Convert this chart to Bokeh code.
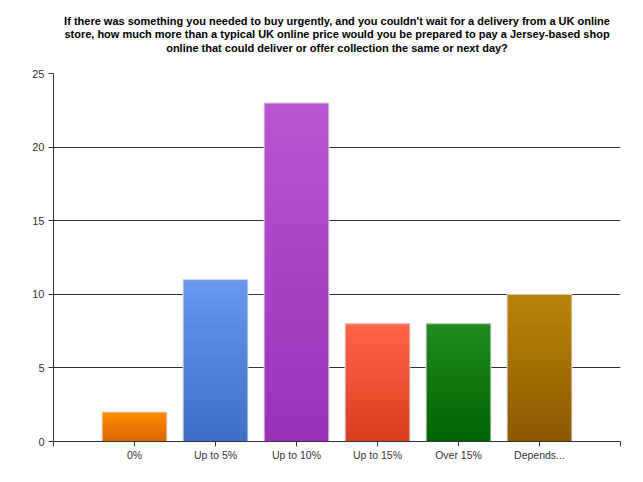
from bokeh.plotting import figure
from bokeh.models import FixedTicker, Title, ColumnDataSource
from bokeh.embed import file_html
from bokeh.resources import INLINE

# ---- data ----
categories = ["0%", "Up to 5%", "Up to 10%", "Up to 15%", "Over 15%", "Depends..."]
counts = [2, 11, 23, 8, 8, 10]
top_colors = ["#FF8C00", "#6699EE", "#BA55D3", "#FF6347", "#228B22", "#B8860B"]
bottom_colors = ["#DD6600", "#3D6FC6", "#9932B8", "#D8401F", "#006400", "#8B5A00"]
y_ticks = [0, 5, 10, 15, 20, 25]
title_lines = [
    "If there was something you needed to buy urgently, and you couldn't wait for a delivery from a UK online",
    "store, how much more than a typical UK online price would you be prepared to pay a Jersey-based shop",
    "online that could deliver or offer collection the same or next day?",
]

FONT = "Liberation Sans"
N_SLICES = 40
BAR_W = 0.8


def hex2rgb(h):
    h = h.lstrip("#")
    return tuple(int(h[i:i + 2], 16) for i in (0, 2, 4))


def lerp(c1, c2, t):
    a, b = hex2rgb(c1), hex2rgb(c2)
    return "#%02x%02x%02x" % tuple(round(a[i] + (b[i] - a[i]) * t) for i in range(3))


n = len(categories)
xs = [i + 1 for i in range(n)]

p = figure(width=643, height=482, x_range=(0, n + 1), y_range=(0, 25),
           output_backend="svg", toolbar_location=None,
           min_border_left=53, min_border_right=23, min_border_bottom=41, min_border_top=73)
p.outline_line_color = None
p.background_fill_color = "white"

# spacer between the title block and the plot frame
p.add_layout(Title(text=" ", text_font_size="1px", standoff=16), "above")
# title: one centered Title per line (first added sits closest to the plot)
for line, so in zip(reversed(title_lines), [1, -1, 0]):
    p.add_layout(Title(text=line, align="center", text_font=FONT,
                       text_font_size="11px", text_font_style="bold", text_color="#000000",
                       standoff=so), "above")

# gradient bars built from the data (layered slices, no seams)
l, r, b, t, c = [], [], [], [], []
for x, v, ct, cb in zip(xs, counts, top_colors, bottom_colors):
    for k in range(N_SLICES):
        l.append(x - BAR_W / 2)
        r.append(x + BAR_W / 2)
        b.append(v * k / N_SLICES)
        t.append(v)
        c.append(lerp(cb, ct, (k + 0.5) / N_SLICES))
p.quad(left=l, right=r, bottom=b, top=t, fill_color=c, line_color=None)

src = ColumnDataSource(dict(left=[x - BAR_W / 2 for x in xs], right=[x + BAR_W / 2 for x in xs],
                            top=counts, bottom=[0] * n))
p.quad(left="left", right="right", top="top", bottom="bottom", source=src,
       fill_color=None, line_color="#dddddd", line_width=1)

# axes
p.xaxis.ticker = FixedTicker(ticks=list(range(0, n + 2)))
p.xaxis.major_label_overrides = {**{0: "", n + 1: ""}, **{x: cat for x, cat in zip(xs, categories)}}
p.xaxis.minor_tick_line_color = None
p.xaxis.major_tick_in = 0
p.xaxis.major_tick_out = 5
p.xaxis.axis_line_color = "#333333"
p.xaxis.major_tick_line_color = "#333333"
p.xaxis.major_label_text_font = FONT
p.xaxis.major_label_text_font_size = "10.5px"
p.xaxis.major_label_text_color = "#333333"
p.xaxis.major_label_standoff = 2

p.yaxis.ticker = FixedTicker(ticks=y_ticks)
p.yaxis.minor_tick_line_color = None
p.yaxis.major_tick_in = 0
p.yaxis.major_tick_out = 5
p.yaxis.axis_line_color = "#333333"
p.yaxis.major_tick_line_color = "#333333"
p.yaxis.major_label_text_font = FONT
p.yaxis.major_label_text_font_size = "11px"
p.yaxis.major_label_text_color = "#333333"
p.yaxis.major_label_standoff = 4

p.xgrid.grid_line_color = None
p.ygrid.grid_line_color = "#333333"
p.ygrid.grid_line_width = 1
p.ygrid.level = "underlay"

open("out.html", "w").write(file_html(p, INLINE))
